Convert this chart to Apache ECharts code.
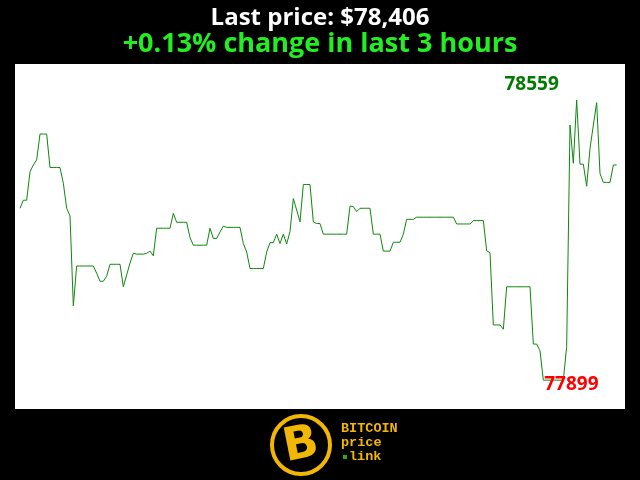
<!DOCTYPE html>
<html>
<head>
<meta charset="utf-8">
<script src="https://cdn.jsdelivr.net/npm/echarts@6/dist/echarts.min.js"></script>
<style>html,body{margin:0;padding:0;background:#000;}#c{width:640px;height:480px;}</style>
</head>
<body>
<div id="c"></div>
<script>
const titleLine1 = "Last price: $78,406";
const titleLine2 = "+0.13% change in last 3 hours";
const prices = [
78304,78323,78323,78390,78406,78418,78479,78479,78479,78400,
78400,78400,78400,78363,78304,78286,78074,78168,78168,78168,
78168,78168,78168,78151,78132,78132,78144,78172,78172,78172,
78172,78119,78147,78175,78198,78196,78196,78196,78198,78203,
78192,78257,78257,78257,78257,78257,78292,78271,78271,78271,
78271,78235,78217,78217,78217,78217,78217,78257,78233,78233,
78248,78262,78259,78259,78259,78259,78259,78221,78201,78162,
78162,78162,78162,78162,78201,78223,78223,78243,78221,78243,
78220,78249,78327,78300,78272,78360,78360,78360,78272,78268,
78268,78243,78243,78243,78243,78243,78243,78243,78243,78309,
78308,78296,78304,78304,78304,78304,78243,78243,78243,78203,
78203,78203,78224,78224,78224,78243,78278,78278,78278,78283,
78283,78283,78283,78283,78283,78283,78283,78283,78283,78283,
78283,78267,78267,78267,78267,78267,78275,78275,78275,78275,
78204,78199,78029,78029,78029,78019,78119,78119,78119,78119,
78119,78119,78119,78119,77984,77984,77968,77899,77899,77899,
77899,77899,77899,77899,77978,78500,78410,78559,78408,78408,
78356,78445,78500,78553,78386,78365,78365,78365,78406,78406
];
const logoWords = ["BITCOIN", "price", "link"];

const maxV = Math.max(...prices), minV = Math.min(...prices);
const maxI = prices.indexOf(maxV), minI = prices.indexOf(minV);
const seriesData = prices.map((v, i) => [i, v]);

const chart = echarts.init(document.getElementById('c'));
chart.setOption({
  animation: false,
  backgroundColor: '#000',
  title: [
    {text: titleLine1, left: 'center', top: 1,
     textStyle: {color: '#fff', fontFamily: 'Open Sans', fontWeight: 'bold', fontSize: 24}},
    {text: titleLine2, left: 'center', top: 26,
     textStyle: {color: '#22ee22', fontFamily: 'Open Sans', fontWeight: 'bold', fontSize: 27}}
  ],
  grid: {left: 15, right: 15, top: 64, bottom: 71, show: true, backgroundColor: '#fff', borderWidth: 0},
  xAxis: {type: 'value', min: -1.5, max: 181.5, show: false},
  yAxis: {type: 'value', min: 77831, max: 78644, show: false, scale: true},
  series: [{
    type: 'line', data: seriesData, showSymbol: false, symbol: 'none',
    lineStyle: {color: '#0d880d', width: 1},
    markPoint: {
      symbol: 'circle', symbolSize: 0,
      data: [
        {coord: [maxI, maxV], value: maxV,
         label: {show: true, formatter: String(maxV), color: '#007a00', fontFamily: 'Open Sans', fontWeight: 'bold', fontSize: 19, offset: [-45, -15]}},
        {coord: [minI, minV], value: minV,
         label: {show: true, formatter: String(minV), color: '#ff0000', fontFamily: 'Open Sans', fontWeight: 'bold', fontSize: 19, offset: [28, 4]}}
      ]
    }
  }],
  graphic: [
    {type: 'circle', shape: {cx: 301, cy: 445, r: 29}, style: {fill: '#000', stroke: '#f2b705', lineWidth: 4}},
    {type: 'text', x: 301, y: 446, rotation: 0.2, style: {text: 'B', fill: '#f2b705', font: 'bold 46px "DejaVu Sans"', align: 'center', verticalAlign: 'middle'}},
    {type: 'text', x: 341, y: 429, style: {text: logoWords[0], fill: '#f2b705', font: 'bold 13.5px "Liberation Mono"', verticalAlign: 'middle'}},
    {type: 'text', x: 341, y: 443, style: {text: logoWords[1], fill: '#f2b705', font: 'bold 13.5px "Liberation Mono"', verticalAlign: 'middle'}},
    {type: 'rect', shape: {x: 343, y: 455, width: 4, height: 4}, style: {fill: '#22aa22'}},
    {type: 'text', x: 349, y: 457, style: {text: logoWords[2], fill: '#f2b705', font: 'bold 13.5px "Liberation Mono"', verticalAlign: 'middle'}}
  ]
});
</script>
</body>
</html>
